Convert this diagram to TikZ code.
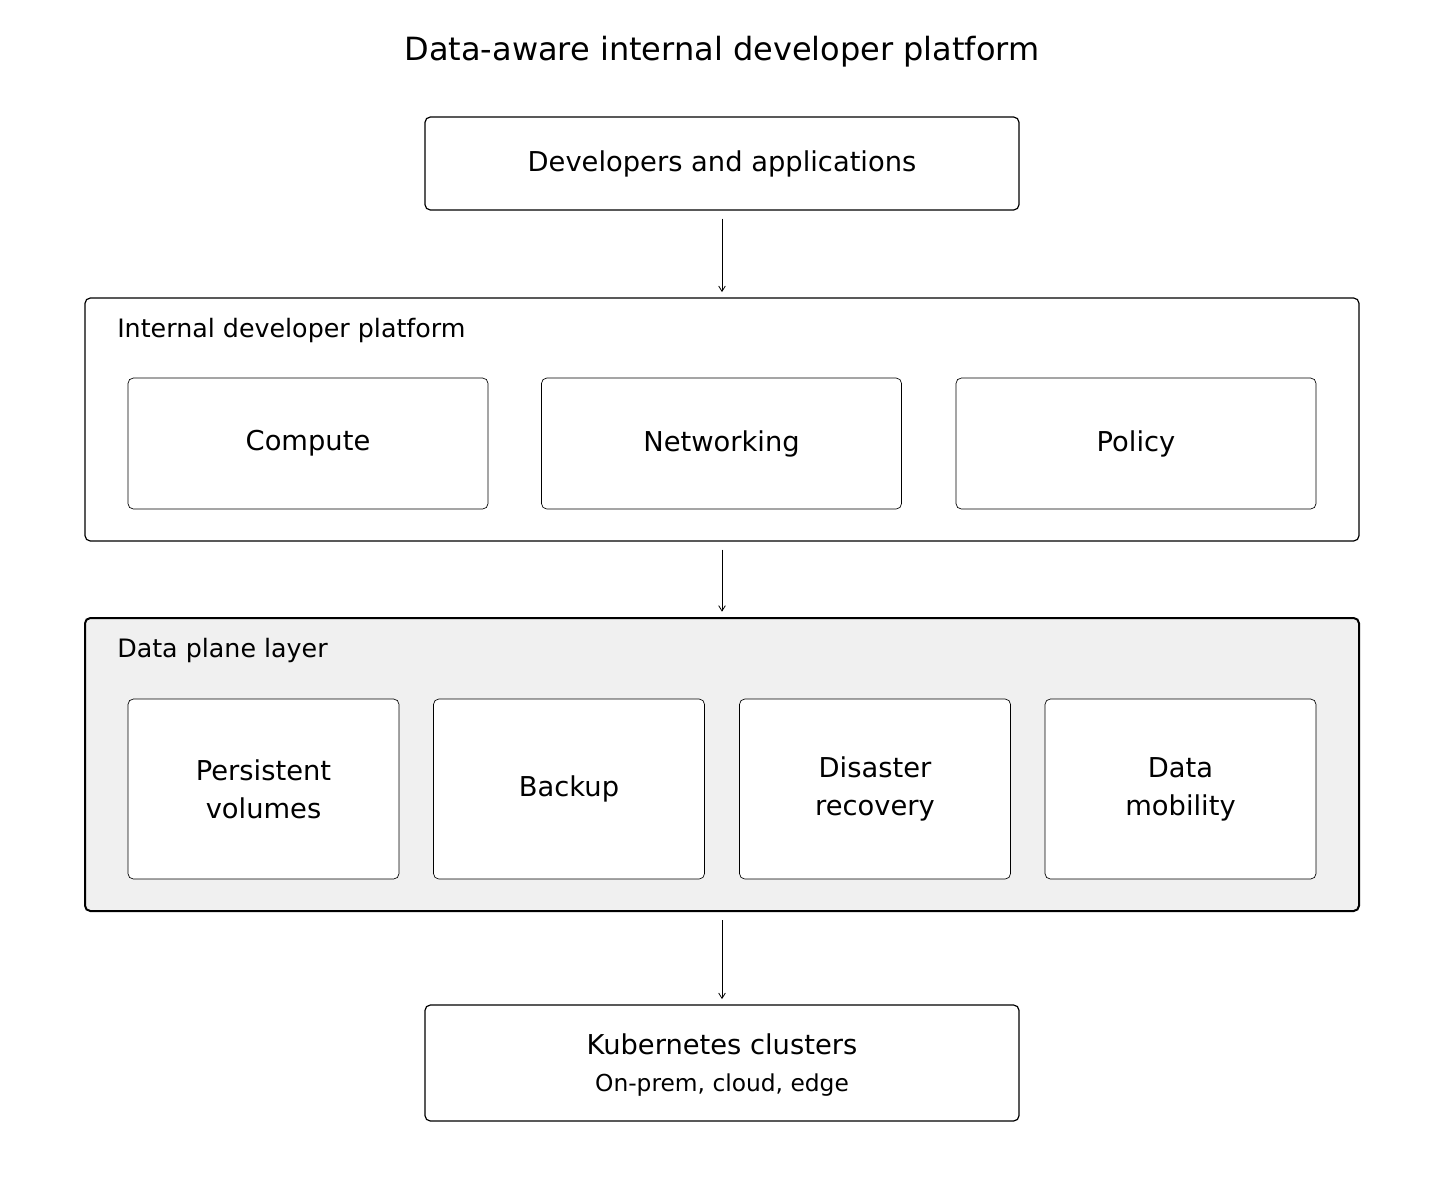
\documentclass[tikz,border=0pt]{standalone}
\usepackage{fontspec}
\setmainfont{DejaVu Sans}
\usetikzlibrary{positioning, arrows.meta}
\definecolor{planegray}{HTML}{F0F0F0}

\begin{document}
\begin{tikzpicture}[
        x=0.75pt, y=-0.75pt,
        every node/.style={align=center, inner sep=0pt},
        box/.style={rectangle, draw, line width=0.9pt, rounded corners=4pt},
        part/.style={rectangle, draw, line width=0.5pt, rounded corners=4pt, fill=white, font=\fontsize{20.5}{28.5}\selectfont},
        layer/.style={rectangle, draw, rounded corners=4pt},
        caption/.style={anchor=west, font=\fontsize{19}{22}\selectfont},
        arrow/.style={-{Straight Barb[length=4pt,width=5pt]}, line width=0.6pt, shorten <=6pt, shorten >=4pt}
    ]
    \useasboundingbox (0,0) rectangle (1444,1190);

    % Title
    \node[font=\fontsize{24}{28}\selectfont] (title) at (722,52) {Data-aware internal developer platform};

    % Top and bottom boxes
    \node[box, minimum width=445.5pt, minimum height=69.75pt, font=\fontsize{20.5}{24}\selectfont] (devs) at (722,163.5) {Developers and applications};
    \node[box, minimum width=445.5pt, minimum height=87pt] (kube) at (722,1063) {};
    \node[font=\fontsize{20.5}{24}\selectfont] (kubetext) at (722,1044) {Kubernetes clusters};
    \node[font=\fontsize{17.5}{20}\selectfont] (kubesub) at (722,1085) {On-prem, cloud, edge};

    % Internal developer platform
    \node[layer, line width=0.9pt, minimum width=955.5pt, minimum height=182.25pt] (idp) at (722,419.5) {};
    \node[caption] (idplabel) at (117,330) {Internal developer platform};
    \node[part, minimum width=270pt, minimum height=98.25pt] (compute) at (308,443.5) {Compute};
    \node[part, minimum width=270pt, minimum height=98.25pt] (network) at (721.5,443.5) {Networking};
    \node[part, minimum width=270pt, minimum height=98.25pt] (policy) at (1136,443.5) {Policy};

    % Data plane layer
    \node[layer, line width=1.5pt, fill=planegray, minimum width=955.5pt, minimum height=219.75pt] (plane) at (722,764.5) {};
    \node[caption] (planelabel) at (117,650) {Data plane layer};
    \node[part, minimum width=203.25pt, minimum height=135pt] (volumes) at (263.5,789) {Persistent\\volumes};
    \node[part, minimum width=203.25pt, minimum height=135pt] (backup) at (569,789) {Backup};
    \node[part, minimum width=203.25pt, minimum height=135pt] (recovery) at (875,789) {Disaster\\recovery};
    \node[part, minimum width=203.25pt, minimum height=135pt] (mobility) at (1180.5,789) {Data\\mobility};

    % Arrows
    \draw[arrow] (devs) -- (idp);
    \draw[arrow] (idp) -- (plane);
    \draw[arrow] (plane) -- (kube);

\end{tikzpicture}
\end{document}
